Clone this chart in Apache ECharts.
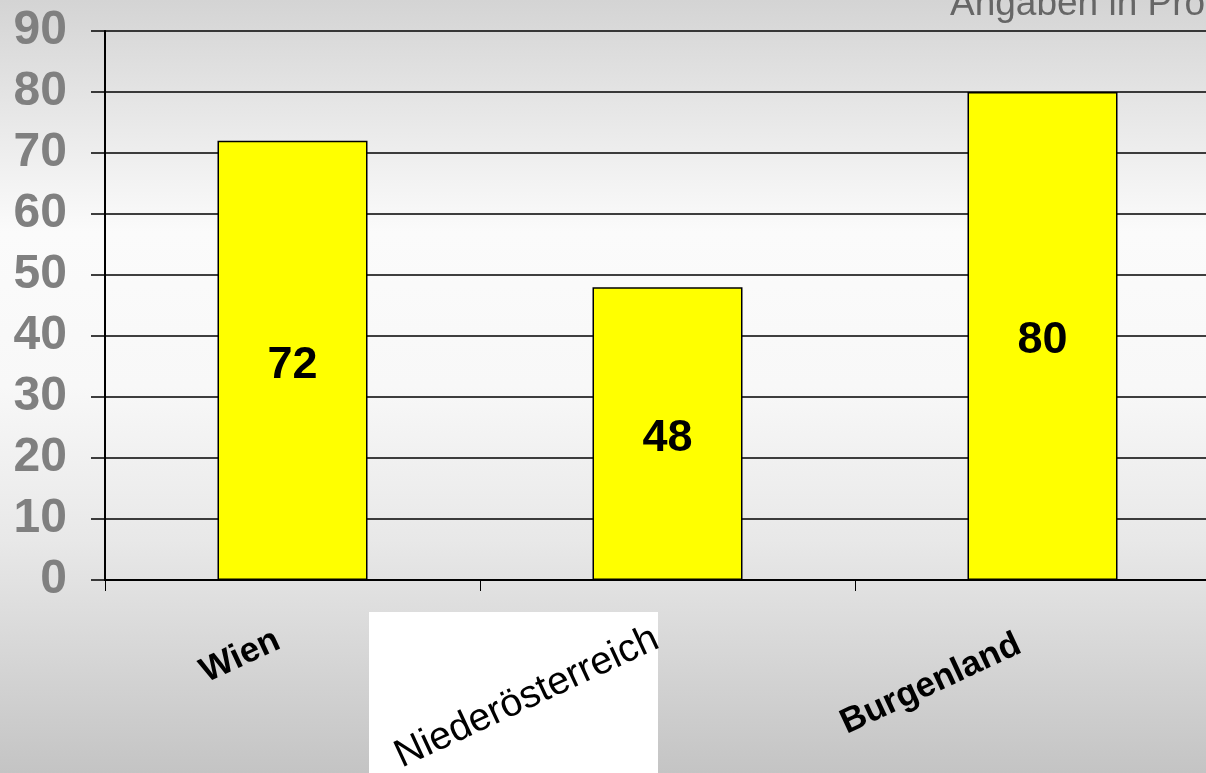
<!DOCTYPE html>
<html>
<head>
<meta charset="utf-8">
<script src="https://cdn.jsdelivr.net/npm/echarts@6/dist/echarts.min.js"></script>
<style>
html,body{margin:0;padding:0;}
#main{width:1206px;height:773px;}
</style>
</head>
<body>
<div id="main"></div>
<script>
var categories = ['Wien', 'Niederösterreich', 'Burgenland'];
var values = [72, 48, 80];
var yTicks = [0, 10, 20, 30, 40, 50, 60, 70, 80, 90];
var note = 'Angaben in Prozent';

var labelStyles = [
  {padding: [0, 16, 0, 0]},
  {fontWeight: 'normal', fontSize: 39, padding: [0, 12, 0, 0]},
  {padding: [0, 26, 0, 0]}
];

var chart = echarts.init(document.getElementById('main'));
chart.setOption({
  backgroundColor: {
    type: 'linear', x: 0, y: 0, x2: 0, y2: 1,
    colorStops: [
      {offset: 0, color: '#d4d4d4'},
      {offset: 0.3, color: '#fbfbfb'},
      {offset: 0.5, color: '#f8f8f8'},
      {offset: 0.7, color: '#e8e8e8'},
      {offset: 1, color: '#c4c4c4'}
    ]
  },
  animation: false,
  graphic: [
    {type: 'rect', left: 369, top: 612, shape: {width: 289, height: 161}, style: {fill: '#ffffff'}, z: 0},
    {type: 'text', left: 950, top: -14, style: {text: note, fill: '#666666', font: '37px "Liberation Sans", Arial, sans-serif'}}
  ],
  grid: {left: 105, top: 31, bottom: 193, width: 1125, containLabel: false, outerBoundsMode: 'none'},
  xAxis: {
    type: 'category',
    data: categories.map(function (c, i) {
      return {value: c, textStyle: labelStyles[i]};
    }),
    axisLine: {lineStyle: {color: '#000', width: 2}},
    axisTick: {show: true, length: 11, lineStyle: {color: '#000', width: 1}},
    axisLabel: {
      rotate: 25, margin: 52, color: '#000', fontWeight: 'bold', fontSize: 35,
      fontFamily: '"Liberation Sans", Arial, sans-serif', interval: 0
    }
  },
  yAxis: {
    type: 'value', min: 0, max: 90, interval: 10,
    axisLine: {show: true, lineStyle: {color: '#000', width: 2}},
    axisTick: {show: true, length: 14, lineStyle: {color: '#000', width: 1.5}},
    splitLine: {lineStyle: {color: '#000', width: 1.5}},
    axisLabel: {
      margin: 38, color: '#808080', fontWeight: 'bold', fontSize: 48,
      fontFamily: '"Liberation Sans", Arial, sans-serif',
      formatter: function (v) { return yTicks.indexOf(v) >= 0 ? String(v) : ''; }
    }
  },
  series: [{
    type: 'bar',
    data: values,
    barWidth: '40%',
    itemStyle: {color: '#ffff00', borderColor: '#000', borderWidth: 1.5},
    label: {
      show: true, position: 'inside', color: '#000', fontWeight: 'bold', fontSize: 45,
      fontFamily: '"Liberation Sans", Arial, sans-serif', offset: [0, 5]
    }
  }]
});
</script>
</body>
</html>
